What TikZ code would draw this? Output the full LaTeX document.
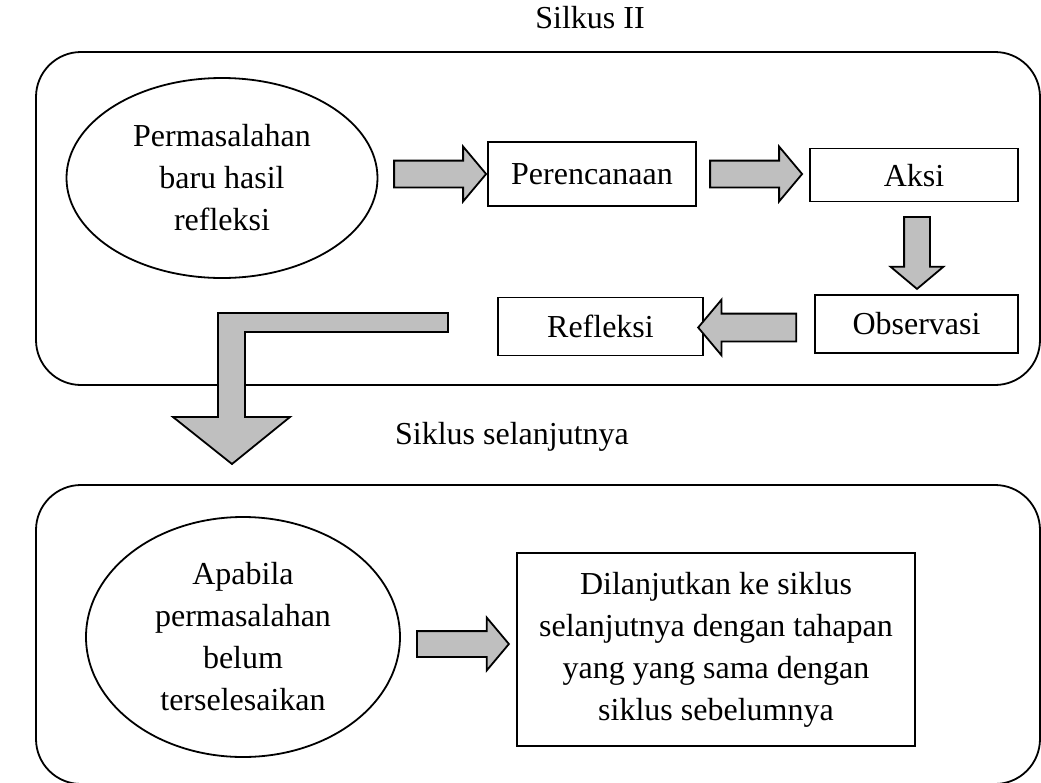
\documentclass[tikz,border=0pt]{standalone}
\usepackage{fontspec}
\setmainfont{Liberation Serif}
\usetikzlibrary{shapes.geometric,shapes.arrows}
\begin{document}
\begin{tikzpicture}[x=0.5pt,y=-0.5pt,
  every node/.style = {font=\fontsize{16}{21}\selectfont, align=center, inner sep=0pt},
  frame/.style = {draw, line width=0.9pt, rounded corners=22.5pt},
  stepbox/.style = {draw, line width=0.9pt, rectangle},
  bubble/.style = {draw, line width=0.9pt, ellipse},
  blockarrow/.style = {draw, line width=0.9pt, fill=gray!50, single arrow,
    inner xsep=0pt, inner ysep=6.25pt, single arrow head extend=7pt,
    single arrow tip angle=100}]
  \useasboundingbox (0,0) rectangle (1041,783);
  % siklus II
  \node (title) at (590,18) {Silkus II};
  \draw[frame] (36,52) rectangle (1040,385);
  \node[bubble, minimum width=155.5pt, minimum height=100pt] (issue) at (222,178)
    {Permasalahan\\baru hasil\\refleksi};
  \node[stepbox, minimum width=104pt, minimum height=32pt] (plan) at (592,174) {Perencanaan};
  \node[stepbox, minimum width=104pt, minimum height=26.5pt, text depth=-4pt] (act) at (914,175) {Aksi};
  \node[stepbox, minimum width=101.5pt, minimum height=29pt] (obs) at (916.5,324) {Observasi};
  \node[stepbox, minimum width=102.5pt, minimum height=29pt] (refl) at (600.5,326.5) {Refleksi};
  \node[blockarrow, minimum height=46pt] (a1) at (434.5,174) {};
  \node[blockarrow, minimum height=46pt] (a2) at (750.5,174) {};
  \node[blockarrow, rotate=-90, minimum height=36pt, inner ysep=6pt,
    single arrow head extend=6.75pt] (a3) at (917,247.5) {};
  \node[blockarrow, rotate=180, minimum height=49pt, inner ysep=6.5pt] (a4) at (753,327.5) {};
  \draw[line width=0.9pt, fill=gray!50] (448,313) -- (218,313) -- (218,417) -- (173,417)
    -- (232,464) -- (290,417) -- (245,417) -- (245,332) -- (448,332) -- cycle;
  % siklus selanjutnya
  \node (next) at (512,437) {Siklus selanjutnya};
  \draw[frame] (36,485) rectangle (1040,784);
  \node[bubble, minimum width=157pt, minimum height=120pt] (open) at (243,637)
    {Apabila\\permasalahan\\belum\\terselesaikan};
  \node[blockarrow, minimum height=46pt, inner ysep=6pt,
    single arrow head extend=6.75pt] (a5) at (457.5,644) {};
  \node[stepbox, minimum width=199pt, minimum height=96.5pt] (cont) at (716,649.5)
    {Dilanjutkan ke siklus\\selanjutnya dengan tahapan\\yang yang sama dengan\\siklus sebelumnya};
\end{tikzpicture}
\end{document}
